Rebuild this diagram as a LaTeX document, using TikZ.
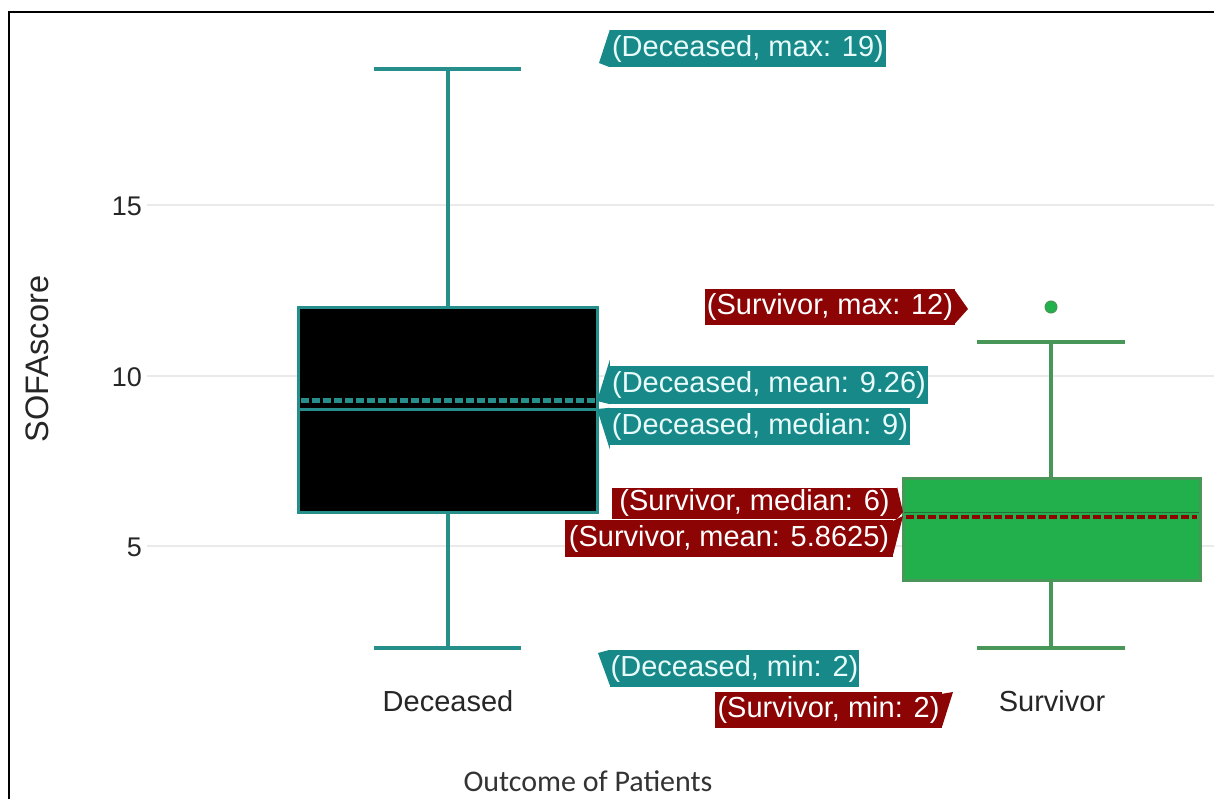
\documentclass[tikz,border=0pt]{standalone}
\usepackage{fontspec}
\setmainfont{Liberation Sans}
\newfontfamily\calfont{Carlito}
\definecolor{tealc}{RGB}{24,137,137}
\definecolor{tealline}{RGB}{38,143,140}
\definecolor{darkred}{RGB}{140,4,4}
\definecolor{greenfill}{RGB}{34,176,76}
\definecolor{greenline}{RGB}{72,150,88}
\definecolor{greendark}{RGB}{40,110,60}
\definecolor{gridc}{RGB}{234,234,234}
\definecolor{tealtext}{RGB}{232,250,250}
\tikzset{
  lbl/.style={inner sep=0pt, font=\fontsize{29}{30}\selectfont, anchor=center},
  tlbl/.style={lbl, fill=tealc, text=tealtext},
  rlbl/.style={lbl, fill=darkred, text=white},
  axtext/.style={inner sep=0pt, font=\fontsize{27}{27}\selectfont, text=black!85},
  gridline/.style={gridc, line width=1.3pt},
  decline/.style={tealline, line width=3.5pt},
  surline/.style={greenline, line width=3.5pt},
}
\begin{document}
\begin{tikzpicture}[x=1pt,y=-1pt]
\useasboundingbox (0,0) rectangle (1214,799);
\fill[white] (0,0) rectangle (1214,799);
% frame
\draw[line width=2.5pt] (9,799) -- (9,12) -- (1214,12);
% grid
\draw[gridline] (147,205) -- (1214,205);
\draw[gridline] (147,376) -- (1214,376);
\draw[gridline] (147,546) -- (1214,546);
% tick labels
\node[axtext, anchor=east] (t15) at (142,206) {15};
\node[axtext, anchor=east] (t10) at (142,377) {10};
\node[axtext, anchor=east] (t5) at (142,547) {5};
% axis titles
\node[axtext, rotate=90, font=\fontsize{32.5}{32}\selectfont] (ytitle) at (37,359) {SOFAscore};
\node[axtext, font=\fontsize{29}{29}\selectfont] (xdec) at (448,701) {Deceased};
\node[axtext, font=\fontsize{29}{29}\selectfont] (xsur) at (1052,701) {Survivor};
\node[axtext, font=\calfont\fontsize{30}{30}\selectfont, text=black!80] (xtitle) at (588,781) {Outcome of Patients};
% Deceased box
\draw[decline] (448,69) -- (448,307);
\draw[decline] (448,512) -- (448,648);
\draw[decline] (374,69) -- (521,69);
\draw[decline] (374,648) -- (521,648);
\draw[decline, fill=black, line width=3pt] (298,307) rectangle (597,512);
\draw[tealline, line width=3pt] (299,409) -- (596,409);
\draw[tealline, line width=4.5pt, dash pattern=on 8pt off 3pt] (301,400.5) -- (596,400.5);
% Survivor box
\draw[surline] (1051,342) -- (1051,478);
\draw[surline] (1051,580) -- (1051,648);
\draw[surline] (977,342) -- (1125,342);
\draw[surline] (977,648) -- (1125,648);
\draw[greenline, fill=greenfill, line width=3pt] (903,478) rectangle (1200,580);
\draw[greendark, line width=1.5pt] (904,512.5) -- (1199,512.5);
\draw[darkred, line width=4pt, dash pattern=on 8pt off 3pt] (906,516.5) -- (1197,516.5);
\fill[greenfill, draw=greenline, line width=1pt] (1051,307) circle (6);
% labels
\node[tlbl, minimum width=276, minimum height=37] (dmax) at (748,48.5) {(Deceased, max: 19)};
\coordinate (dmaxtip) at (599,63);
\fill[tealc] (dmax.north west) -- (dmaxtip) -- (dmax.south west) -- cycle;

\node[rlbl, minimum width=250, minimum height=36] (smax) at (830,307) {(Survivor, max: 12)};
\coordinate (smaxtip) at (968,309);
\fill[darkred] ([yshift=-2pt]smax.north east) -- (smaxtip) -- ([yshift=2pt]smax.south east) -- cycle;

\node[tlbl, minimum width=318, minimum height=38] (dmean) at (769,385) {(Deceased, mean: 9.26)};
\coordinate (dmeantip) at (597,401);
\fill[tealc] ([yshift=6pt]dmean.north west) -- (dmeantip) -- (dmean.south west) -- cycle;

\node[tlbl, minimum width=300, minimum height=37] (dmed) at (760,426.5) {(Deceased, median: 9)};
\coordinate (dmedtip) at (597,409);
\fill[tealc] (dmed.north west) -- (dmedtip) -- ([yshift=-4pt]dmed.south west) -- cycle;

\node[rlbl, minimum width=285, minimum height=31] (smed) at (754.5,503) {(Survivor, median: 6)};
\coordinate (smedtip) at (903,512);
\fill[darkred] (smed.north east) -- (smedtip) -- (smed.south east) -- cycle;

\node[rlbl, minimum width=328, minimum height=37] (smean) at (729,538.5) {(Survivor, mean: 5.8625)};
\coordinate (smeantip) at (903,516);
\fill[darkred] ([yshift=-1pt]smean.north east) -- (smeantip) -- ([yshift=3pt]smean.south east) -- cycle;

\node[tlbl, minimum width=249, minimum height=37] (dmin) at (734.5,668.5) {(Deceased, min: 2)};
\coordinate (dmintip) at (598,653);
\fill[tealc] (dmin.north west) -- (dmintip) -- ([yshift=2pt]dmin.south west) -- cycle;

\node[rlbl, minimum width=227, minimum height=36] (smin) at (828.5,710) {(Survivor, min: 2)};
\coordinate (smintip) at (953,692);
\fill[darkred] ([yshift=-2pt]smin.north east) -- (smintip) -- ([yshift=2pt]smin.south east) -- cycle;
\end{tikzpicture}
\end{document}
